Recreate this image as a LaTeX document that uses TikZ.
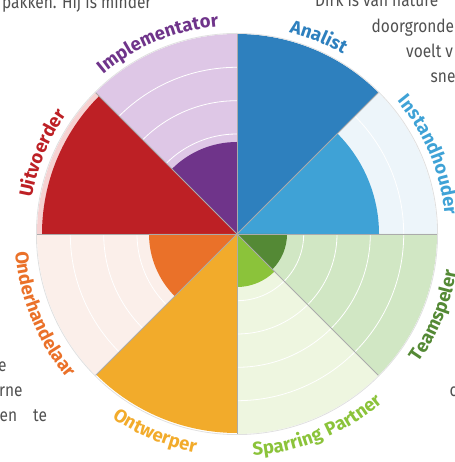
\documentclass[tikz,border=0pt]{standalone}
\usepackage{fontspec}
\setmainfont{Fira Sans}
\newfontfamily\bodyfont{Fira Sans}[FakeStretch=0.86]
\newfontfamily\labfont{Fira Sans}[LetterSpace=6]
\usetikzlibrary{decorations.text}
\definecolor{anaC}{HTML}{2E80BE}
\definecolor{insC}{HTML}{3FA2D6}
\definecolor{insP}{HTML}{EDF5FA}
\definecolor{teaC}{HTML}{548935}
\definecolor{teaP}{HTML}{D1E7C4}
\definecolor{spaC}{HTML}{8BC33A}
\definecolor{spaP}{HTML}{EEF6E0}
\definecolor{ontC}{HTML}{F2AB2B}
\definecolor{ondC}{HTML}{EA7129}
\definecolor{ondP}{HTML}{FBEFEA}
\definecolor{uitC}{HTML}{BD2025}
\definecolor{uitP}{HTML}{F6D2D2}
\definecolor{impC}{HTML}{6F348A}
\definecolor{impP}{HTML}{DEC7E6}
\definecolor{bodyC}{HTML}{505050}
\definecolor{sepC}{HTML}{ABABAB}
\newcommand\wheelsector[4]{\fill[#4] (C) -- ++(#1:#3) arc[start angle=#1,end angle=#2,radius=#3] -- cycle;}
\newcommand\toplabel[3]{\path[decorate,decoration={text along path,text align=center,text={|\labfont\fontsize{18.5}{18.5}\bfseries\color{#2}|#3}}] (C) ++(#1+34:208.5) arc[start angle=#1+34,end angle=#1-34,radius=208.5];}
\newcommand\botlabel[3]{\path[decorate,decoration={text along path,text align=center,text={|\labfont\fontsize{18.5}{18.5}\bfseries\color{#2}|#3}}] (C) ++(#1-34:222.5) arc[start angle=#1-34,end angle=#1+34,radius=222.5];}
\tikzset{
  body/.style={font=\bodyfont\fontsize{18}{18}\selectfont, text=bodyC, inner sep=0pt, anchor=base west},
  ring/.style={white, line width=0.8pt},
  sep/.style={sepC, line width=0.9pt},
}
\begin{document}
\begin{tikzpicture}[x=1pt,y=1pt]
\useasboundingbox (0,0) rectangle (454,462);
\clip (0,0) rectangle (454,462);
\coordinate (C) at (237,228);
% pale backgrounds
\wheelsector{0}{45}{200}{insP}
\wheelsector{90}{135}{200}{impP}
\wheelsector{135}{180}{200}{uitP}
\wheelsector{180}{225}{200}{ondP}
\wheelsector{270}{315}{200}{spaP}
\wheelsector{315}{360}{200}{teaP}
% rings
\foreach \r in {33.3,66.7,100,133.3,166.7} \draw[ring] (C) circle[radius=\r];
% values
\wheelsector{45}{90}{200}{anaC}
\wheelsector{0}{45}{142}{insC}
\wheelsector{90}{135}{92}{impC}
\wheelsector{135}{180}{195}{uitC}
\wheelsector{180}{225}{88}{ondC}
\wheelsector{225}{270}{199}{ontC}
\wheelsector{270}{315}{53}{spaC}
\wheelsector{315}{360}{50}{teaC}
% separators
\foreach \a in {0,45,...,315} \draw[sep] (C) -- ++(\a:200);
\draw[black!12, line width=0.8pt] (C) circle[radius=200.6];
% labels
\toplabel{67.5}{anaC}{Analist}
\toplabel{112.5}{impC}{Implementator}
\toplabel{157.5}{uitC}{Uitvoerder}
\toplabel{22.5}{insC}{Instandhouder}
\botlabel{-22.5}{teaC}{Teamspeler}
\botlabel{-67.5}{spaC}{Sparring Partner}
\botlabel{-112.5}{ontC}{Ontwerper}
\botlabel{-157.5}{ondC}{Onderhandelaar}
% surrounding text fragments
\node[body] (t1) at (2,453) {pakken. Hij is minder};
\node[body] (t2) at (315,455) {Dirk is van nature};
\node[body] (t3) at (371.5,429) {doorgronde};
\node[body] (t4) at (406,404) {voelt v};
\node[body] (t5) at (430.5,379) {sne};
\node[body] (t6) at (-2,90.3) {e};
\node[body] (t7) at (-1,65.3) {rne};
\node[body] (t8) at (-0.5,40.3) {en};
\node[body] (t9) at (33,40.3) {te};
\node[body] (t10) at (449.5,65) {c};
\end{tikzpicture}
\end{document}
